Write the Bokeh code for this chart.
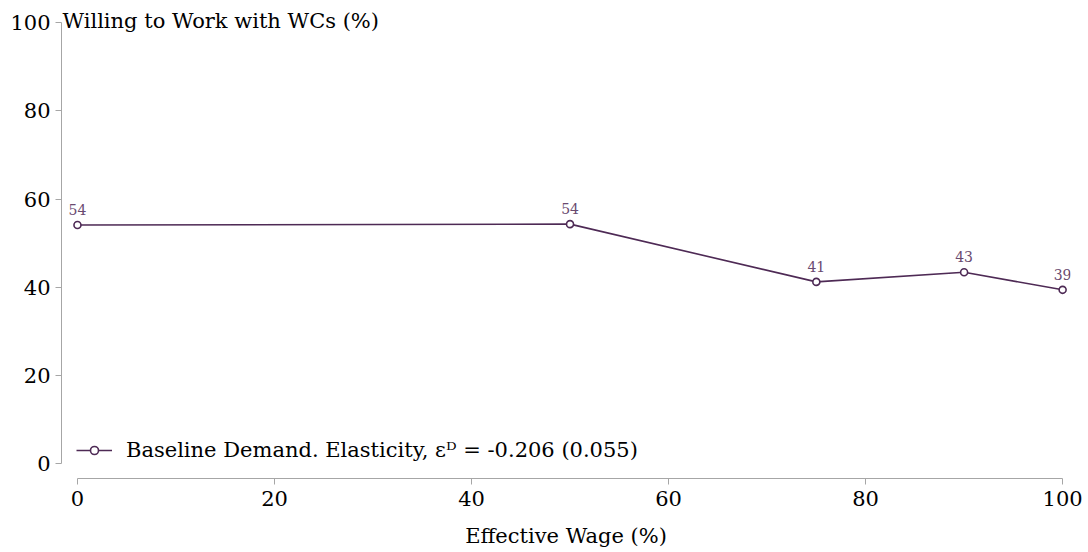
from bokeh.plotting import figure
from bokeh.models import Range1d, Label, ColumnDataSource, Legend, LegendItem
from bokeh.core.properties import value
from bokeh.embed import file_html
from bokeh.resources import INLINE

# Effective wage (%) and share willing to work (%)
wage = [0, 50, 75, 90, 100]
willing = [54.1, 54.3, 41.2, 43.4, 39.4]
x_ticks = [0, 20, 40, 60, 80, 100]
y_ticks = [0, 20, 40, 60, 80, 100]

FONT = "DejaVu Serif"
SIZE = "21px"
LINE_COLOR = "#4e2a55"
LABEL_COLOR = "#6a4a70"
AXIS_COLOR = "#a6a6a6"

src = ColumnDataSource(dict(x=wage, y=willing,
                            lab=[f"{v:.0f}" for v in willing]))

p = figure(width=1088, height=552, output_backend="svg", toolbar_location=None,
           x_range=Range1d(-1.62, 100.8), y_range=Range1d(-3.4, 103.9),
           min_border_left=61, min_border_right=18,
           min_border_top=5, min_border_bottom=74)
p.outline_line_color = None
p.grid.visible = False
p.background_fill_color = "white"

for ax, ticks in ((p.xaxis, x_ticks), (p.yaxis, y_ticks)):
    ax.ticker = ticks
    ax.bounds = (0, 100)
    ax.axis_line_color = AXIS_COLOR
    ax.major_tick_line_color = AXIS_COLOR
    ax.minor_tick_line_color = None
    ax.major_tick_out = 6
    ax.major_tick_in = 0
    ax.major_label_text_font = FONT
    ax.major_label_text_font_size = SIZE
    ax.major_label_text_color = "black"

p.xaxis.major_label_standoff = 6
p.yaxis.major_label_standoff = 5
p.yaxis.major_label_orientation = "horizontal"

p.xaxis.axis_label = "Effective Wage (%)"
p.xaxis.axis_label_text_font = FONT
p.xaxis.axis_label_text_font_style = "normal"
p.xaxis.axis_label_text_font_size = SIZE
p.xaxis.axis_label_text_color = "black"
p.xaxis.axis_label_standoff = 15

line = p.line("x", "y", source=src, line_color=LINE_COLOR, line_width=1.6)
pts = p.scatter("x", "y", source=src, size=7, marker="circle",
                fill_color="white", line_color=LINE_COLOR, line_width=1.6)

p.text("x", "y", text="lab", source=src, text_font=value(FONT),
       text_font_size="14px", text_color=LABEL_COLOR,
       text_align="center", text_baseline="bottom", y_offset=-10)

p.add_layout(Label(x=1, x_units="screen", y=100, y_units="data",
                   text="Willing to Work with WCs (%)", text_font=FONT,
                   text_font_size=SIZE, text_color="black",
                   text_baseline="middle", y_offset=2))

legend = Legend(items=[LegendItem(label="Baseline Demand. Elasticity, \u03b5\u1d30 = -0.206 (0.055)",
                                  renderers=[line, pts])],
                location=(15, 16), padding=0, margin=0, spacing=0,
                glyph_width=36, label_standoff=14,
                label_text_font=FONT, label_text_font_size=SIZE,
                label_text_color="black",
                background_fill_alpha=0, border_line_color=None)
p.add_layout(legend)

open("out.html", "w").write(file_html(p, INLINE))
